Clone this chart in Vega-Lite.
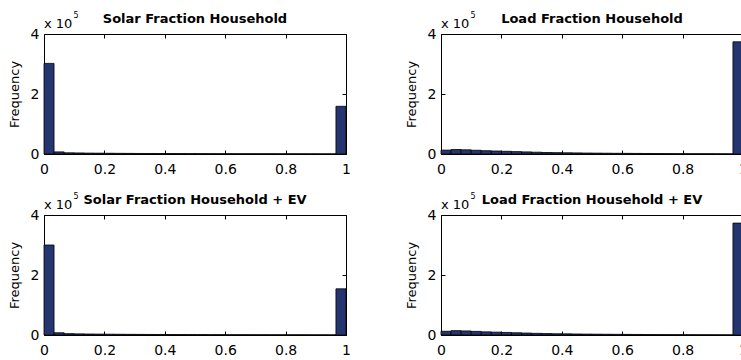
{
  "$schema": "https://vega.github.io/schema/vega-lite/v6.json",
  "padding": {"left": 8, "top": 12, "right": -5, "bottom": 0},
  "background": "white",
  "datasets": {
    "sh": [
      {"a": 0, "b": 0.0333, "n": 302000}, {"a": 0.0333, "b": 0.0667, "n": 7000}, {"a": 0.0667, "b": 0.1, "n": 4000},
      {"a": 0.1, "b": 0.1333, "n": 3500}, {"a": 0.1333, "b": 0.1667, "n": 3000}, {"a": 0.1667, "b": 0.2, "n": 2800},
      {"a": 0.2, "b": 0.2333, "n": 2500}, {"a": 0.2333, "b": 0.2667, "n": 2200}, {"a": 0.2667, "b": 0.3, "n": 2000},
      {"a": 0.3, "b": 0.3333, "n": 1800}, {"a": 0.3333, "b": 0.3667, "n": 1700}, {"a": 0.3667, "b": 0.4, "n": 1600},
      {"a": 0.4, "b": 0.4333, "n": 1500}, {"a": 0.4333, "b": 0.4667, "n": 1400}, {"a": 0.4667, "b": 0.5, "n": 1300},
      {"a": 0.5, "b": 0.5333, "n": 1200}, {"a": 0.5333, "b": 0.5667, "n": 1100}, {"a": 0.5667, "b": 0.6, "n": 1000},
      {"a": 0.6, "b": 0.6333, "n": 1000}, {"a": 0.6333, "b": 0.6667, "n": 900}, {"a": 0.6667, "b": 0.7, "n": 900},
      {"a": 0.7, "b": 0.7333, "n": 800}, {"a": 0.7333, "b": 0.7667, "n": 800}, {"a": 0.7667, "b": 0.8, "n": 700},
      {"a": 0.8, "b": 0.8333, "n": 700}, {"a": 0.8333, "b": 0.8667, "n": 600}, {"a": 0.8667, "b": 0.9, "n": 600},
      {"a": 0.9, "b": 0.9333, "n": 500}, {"a": 0.9333, "b": 0.9667, "n": 500}, {"a": 0.9667, "b": 1, "n": 159000}
    ],
    "lh": [
      {"a": 0, "b": 0.0333, "n": 13000}, {"a": 0.0333, "b": 0.0667, "n": 15000}, {"a": 0.0667, "b": 0.1, "n": 14000},
      {"a": 0.1, "b": 0.1333, "n": 12500}, {"a": 0.1333, "b": 0.1667, "n": 11000}, {"a": 0.1667, "b": 0.2, "n": 10000},
      {"a": 0.2, "b": 0.2333, "n": 9000}, {"a": 0.2333, "b": 0.2667, "n": 8000}, {"a": 0.2667, "b": 0.3, "n": 7000},
      {"a": 0.3, "b": 0.3333, "n": 6000}, {"a": 0.3333, "b": 0.3667, "n": 5000}, {"a": 0.3667, "b": 0.4, "n": 4500},
      {"a": 0.4, "b": 0.4333, "n": 4000}, {"a": 0.4333, "b": 0.4667, "n": 3600}, {"a": 0.4667, "b": 0.5, "n": 3200},
      {"a": 0.5, "b": 0.5333, "n": 2900}, {"a": 0.5333, "b": 0.5667, "n": 2600}, {"a": 0.5667, "b": 0.6, "n": 2300},
      {"a": 0.6, "b": 0.6333, "n": 2100}, {"a": 0.6333, "b": 0.6667, "n": 1900}, {"a": 0.6667, "b": 0.7, "n": 1700},
      {"a": 0.7, "b": 0.7333, "n": 1500}, {"a": 0.7333, "b": 0.7667, "n": 1300}, {"a": 0.7667, "b": 0.8, "n": 1100},
      {"a": 0.8, "b": 0.8333, "n": 1000}, {"a": 0.8333, "b": 0.8667, "n": 900}, {"a": 0.8667, "b": 0.9, "n": 800},
      {"a": 0.9, "b": 0.9333, "n": 700}, {"a": 0.9333, "b": 0.9667, "n": 600}, {"a": 0.9667, "b": 1, "n": 374000}
    ],
    "sev": [
      {"a": 0, "b": 0.0333, "n": 300000}, {"a": 0.0333, "b": 0.0667, "n": 7500}, {"a": 0.0667, "b": 0.1, "n": 4500},
      {"a": 0.1, "b": 0.1333, "n": 3800}, {"a": 0.1333, "b": 0.1667, "n": 3300}, {"a": 0.1667, "b": 0.2, "n": 3000},
      {"a": 0.2, "b": 0.2333, "n": 2700}, {"a": 0.2333, "b": 0.2667, "n": 2400}, {"a": 0.2667, "b": 0.3, "n": 2200},
      {"a": 0.3, "b": 0.3333, "n": 2000}, {"a": 0.3333, "b": 0.3667, "n": 1800}, {"a": 0.3667, "b": 0.4, "n": 1700},
      {"a": 0.4, "b": 0.4333, "n": 1600}, {"a": 0.4333, "b": 0.4667, "n": 1500}, {"a": 0.4667, "b": 0.5, "n": 1400},
      {"a": 0.5, "b": 0.5333, "n": 1300}, {"a": 0.5333, "b": 0.5667, "n": 1200}, {"a": 0.5667, "b": 0.6, "n": 1100},
      {"a": 0.6, "b": 0.6333, "n": 1000}, {"a": 0.6333, "b": 0.6667, "n": 1000}, {"a": 0.6667, "b": 0.7, "n": 900},
      {"a": 0.7, "b": 0.7333, "n": 900}, {"a": 0.7333, "b": 0.7667, "n": 800}, {"a": 0.7667, "b": 0.8, "n": 800},
      {"a": 0.8, "b": 0.8333, "n": 700}, {"a": 0.8333, "b": 0.8667, "n": 700}, {"a": 0.8667, "b": 0.9, "n": 600},
      {"a": 0.9, "b": 0.9333, "n": 600}, {"a": 0.9333, "b": 0.9667, "n": 500}, {"a": 0.9667, "b": 1, "n": 154000}
    ],
    "lev": [
      {"a": 0, "b": 0.0333, "n": 12500}, {"a": 0.0333, "b": 0.0667, "n": 14500}, {"a": 0.0667, "b": 0.1, "n": 13500},
      {"a": 0.1, "b": 0.1333, "n": 12000}, {"a": 0.1333, "b": 0.1667, "n": 10500}, {"a": 0.1667, "b": 0.2, "n": 9500},
      {"a": 0.2, "b": 0.2333, "n": 8500}, {"a": 0.2333, "b": 0.2667, "n": 7500}, {"a": 0.2667, "b": 0.3, "n": 6500},
      {"a": 0.3, "b": 0.3333, "n": 5500}, {"a": 0.3333, "b": 0.3667, "n": 4800}, {"a": 0.3667, "b": 0.4, "n": 4200},
      {"a": 0.4, "b": 0.4333, "n": 3800}, {"a": 0.4333, "b": 0.4667, "n": 3400}, {"a": 0.4667, "b": 0.5, "n": 3000},
      {"a": 0.5, "b": 0.5333, "n": 2700}, {"a": 0.5333, "b": 0.5667, "n": 2400}, {"a": 0.5667, "b": 0.6, "n": 2200},
      {"a": 0.6, "b": 0.6333, "n": 2000}, {"a": 0.6333, "b": 0.6667, "n": 1800}, {"a": 0.6667, "b": 0.7, "n": 1600},
      {"a": 0.7, "b": 0.7333, "n": 1400}, {"a": 0.7333, "b": 0.7667, "n": 1200}, {"a": 0.7667, "b": 0.8, "n": 1100},
      {"a": 0.8, "b": 0.8333, "n": 1000}, {"a": 0.8333, "b": 0.8667, "n": 900}, {"a": 0.8667, "b": 0.9, "n": 800},
      {"a": 0.9, "b": 0.9333, "n": 700}, {"a": 0.9333, "b": 0.9667, "n": 600}, {"a": 0.9667, "b": 1, "n": 373000}
    ],
    "note": [{"t": "x 10", "s": "5"}]
  },
  "columns": 2,
  "spacing": {"row": 17, "column": 54},
  "concat": [
    {
      "title": {"text": "Solar Fraction Household"},
      "width": 302, "height": 120,
      "layer": [
        {"data": {"name": "sh"}, "mark": {"type": "bar", "fill": "#253570", "stroke": "#000000", "strokeWidth": 0.8},
         "encoding": {
           "x": {"field": "a", "type": "quantitative", "scale": {"domain": [0, 1], "nice": false}, "axis": {"orient": "bottom", "values": [0, 0.2, 0.4, 0.6, 0.8, 1], "format": "~g", "title": null}},
           "x2": {"field": "b"},
           "y": {"field": "n", "type": "quantitative", "scale": {"domain": [0, 400000], "nice": false}, "axis": {"orient": "left", "values": [0, 200000, 400000], "labelExpr": "datum.value / 100000", "title": "Frequency"}},
           "y2": {"datum": 0}
         }},
        {"data": {"name": "sh"}, "mark": {"type": "bar", "opacity": 0},
         "encoding": {
           "x": {"field": "a", "type": "quantitative", "axis": {"orient": "top", "values": [0, 0.2, 0.4, 0.6, 0.8, 1], "labels": false, "title": null}},
           "x2": {"field": "b"},
           "y": {"field": "n", "type": "quantitative", "axis": {"orient": "right", "values": [0, 200000, 400000], "labels": false, "title": null}},
           "y2": {"datum": 0}
         }},
        {"data": {"name": "note"}, "mark": {"type": "text", "align": "left", "baseline": "alphabetic", "dy": -6, "font": "DejaVu Sans", "fontSize": 13, "color": "#000000"},
         "encoding": {
           "x": {"datum": 0, "type": "quantitative", "axis": null},
           "y": {"datum": 400000, "type": "quantitative", "axis": null},
           "text": {"field": "t"}
         }},
        {"data": {"name": "note"}, "mark": {"type": "text", "align": "left", "baseline": "alphabetic", "dx": 29.5, "dy": -16, "font": "DejaVu Sans", "fontSize": 8, "color": "#000000"},
         "encoding": {
           "x": {"datum": 0, "type": "quantitative", "axis": null},
           "y": {"datum": 400000, "type": "quantitative", "axis": null},
           "text": {"field": "s"}
         }}
      ],
      "resolve": {"axis": {"x": "independent", "y": "independent"}}
    },
    {
      "title": {"text": "Load Fraction Household"},
      "width": 302, "height": 120,
      "layer": [
        {"data": {"name": "lh"}, "mark": {"type": "bar", "fill": "#253570", "stroke": "#000000", "strokeWidth": 0.8},
         "encoding": {
           "x": {"field": "a", "type": "quantitative", "scale": {"domain": [0, 1], "nice": false}, "axis": {"orient": "bottom", "values": [0, 0.2, 0.4, 0.6, 0.8, 1], "format": "~g", "title": null}},
           "x2": {"field": "b"},
           "y": {"field": "n", "type": "quantitative", "scale": {"domain": [0, 400000], "nice": false}, "axis": {"orient": "left", "values": [0, 200000, 400000], "labelExpr": "datum.value / 100000", "title": "Frequency"}},
           "y2": {"datum": 0}
         }},
        {"data": {"name": "lh"}, "mark": {"type": "bar", "opacity": 0},
         "encoding": {
           "x": {"field": "a", "type": "quantitative", "axis": {"orient": "top", "values": [0, 0.2, 0.4, 0.6, 0.8, 1], "labels": false, "title": null}},
           "x2": {"field": "b"},
           "y": {"field": "n", "type": "quantitative", "axis": {"orient": "right", "values": [0, 200000, 400000], "labels": false, "title": null}},
           "y2": {"datum": 0}
         }},
        {"data": {"name": "note"}, "mark": {"type": "text", "align": "left", "baseline": "alphabetic", "dy": -6, "font": "DejaVu Sans", "fontSize": 13, "color": "#000000"},
         "encoding": {
           "x": {"datum": 0, "type": "quantitative", "axis": null},
           "y": {"datum": 400000, "type": "quantitative", "axis": null},
           "text": {"field": "t"}
         }},
        {"data": {"name": "note"}, "mark": {"type": "text", "align": "left", "baseline": "alphabetic", "dx": 29.5, "dy": -16, "font": "DejaVu Sans", "fontSize": 8, "color": "#000000"},
         "encoding": {
           "x": {"datum": 0, "type": "quantitative", "axis": null},
           "y": {"datum": 400000, "type": "quantitative", "axis": null},
           "text": {"field": "s"}
         }}
      ],
      "resolve": {"axis": {"x": "independent", "y": "independent"}}
    },
    {
      "title": {"text": "Solar Fraction Household + EV"},
      "width": 302, "height": 120,
      "layer": [
        {"data": {"name": "sev"}, "mark": {"type": "bar", "fill": "#253570", "stroke": "#000000", "strokeWidth": 0.8},
         "encoding": {
           "x": {"field": "a", "type": "quantitative", "scale": {"domain": [0, 1], "nice": false}, "axis": {"orient": "bottom", "values": [0, 0.2, 0.4, 0.6, 0.8, 1], "format": "~g", "title": null}},
           "x2": {"field": "b"},
           "y": {"field": "n", "type": "quantitative", "scale": {"domain": [0, 400000], "nice": false}, "axis": {"orient": "left", "values": [0, 200000, 400000], "labelExpr": "datum.value / 100000", "title": "Frequency"}},
           "y2": {"datum": 0}
         }},
        {"data": {"name": "sev"}, "mark": {"type": "bar", "opacity": 0},
         "encoding": {
           "x": {"field": "a", "type": "quantitative", "axis": {"orient": "top", "values": [0, 0.2, 0.4, 0.6, 0.8, 1], "labels": false, "title": null}},
           "x2": {"field": "b"},
           "y": {"field": "n", "type": "quantitative", "axis": {"orient": "right", "values": [0, 200000, 400000], "labels": false, "title": null}},
           "y2": {"datum": 0}
         }},
        {"data": {"name": "note"}, "mark": {"type": "text", "align": "left", "baseline": "alphabetic", "dy": -6, "font": "DejaVu Sans", "fontSize": 13, "color": "#000000"},
         "encoding": {
           "x": {"datum": 0, "type": "quantitative", "axis": null},
           "y": {"datum": 400000, "type": "quantitative", "axis": null},
           "text": {"field": "t"}
         }},
        {"data": {"name": "note"}, "mark": {"type": "text", "align": "left", "baseline": "alphabetic", "dx": 29.5, "dy": -16, "font": "DejaVu Sans", "fontSize": 8, "color": "#000000"},
         "encoding": {
           "x": {"datum": 0, "type": "quantitative", "axis": null},
           "y": {"datum": 400000, "type": "quantitative", "axis": null},
           "text": {"field": "s"}
         }}
      ],
      "resolve": {"axis": {"x": "independent", "y": "independent"}}
    },
    {
      "title": {"text": "Load Fraction Household + EV"},
      "width": 302, "height": 120,
      "layer": [
        {"data": {"name": "lev"}, "mark": {"type": "bar", "fill": "#253570", "stroke": "#000000", "strokeWidth": 0.8},
         "encoding": {
           "x": {"field": "a", "type": "quantitative", "scale": {"domain": [0, 1], "nice": false}, "axis": {"orient": "bottom", "values": [0, 0.2, 0.4, 0.6, 0.8, 1], "format": "~g", "title": null}},
           "x2": {"field": "b"},
           "y": {"field": "n", "type": "quantitative", "scale": {"domain": [0, 400000], "nice": false}, "axis": {"orient": "left", "values": [0, 200000, 400000], "labelExpr": "datum.value / 100000", "title": "Frequency"}},
           "y2": {"datum": 0}
         }},
        {"data": {"name": "lev"}, "mark": {"type": "bar", "opacity": 0},
         "encoding": {
           "x": {"field": "a", "type": "quantitative", "axis": {"orient": "top", "values": [0, 0.2, 0.4, 0.6, 0.8, 1], "labels": false, "title": null}},
           "x2": {"field": "b"},
           "y": {"field": "n", "type": "quantitative", "axis": {"orient": "right", "values": [0, 200000, 400000], "labels": false, "title": null}},
           "y2": {"datum": 0}
         }},
        {"data": {"name": "note"}, "mark": {"type": "text", "align": "left", "baseline": "alphabetic", "dy": -6, "font": "DejaVu Sans", "fontSize": 13, "color": "#000000"},
         "encoding": {
           "x": {"datum": 0, "type": "quantitative", "axis": null},
           "y": {"datum": 400000, "type": "quantitative", "axis": null},
           "text": {"field": "t"}
         }},
        {"data": {"name": "note"}, "mark": {"type": "text", "align": "left", "baseline": "alphabetic", "dx": 29.5, "dy": -16, "font": "DejaVu Sans", "fontSize": 8, "color": "#000000"},
         "encoding": {
           "x": {"datum": 0, "type": "quantitative", "axis": null},
           "y": {"datum": 400000, "type": "quantitative", "axis": null},
           "text": {"field": "s"}
         }}
      ],
      "resolve": {"axis": {"x": "independent", "y": "independent"}}
    }
  ],
  "config": {
    "view": {"stroke": null},
    "axis": {
      "grid": false,
      "domainColor": "#000000", "domainWidth": 1,
      "tickColor": "#000000", "tickSize": -4, "tickWidth": 1,
      "labelPadding": 12, "labelFlush": false,
      "labelFont": "DejaVu Sans", "labelFontSize": 14, "labelColor": "#000000",
      "titleFont": "DejaVu Sans", "titleFontSize": 13, "titleFontWeight": "normal", "titleColor": "#000000", "titlePadding": 6
    },
    "axisY": {"labelPadding": 9, "titlePadding": 9},
    "title": {"font": "DejaVu Sans", "fontSize": 13, "fontWeight": "bold", "color": "#000000", "anchor": "middle", "frame": "group", "offset": -13.5}
  }
}
